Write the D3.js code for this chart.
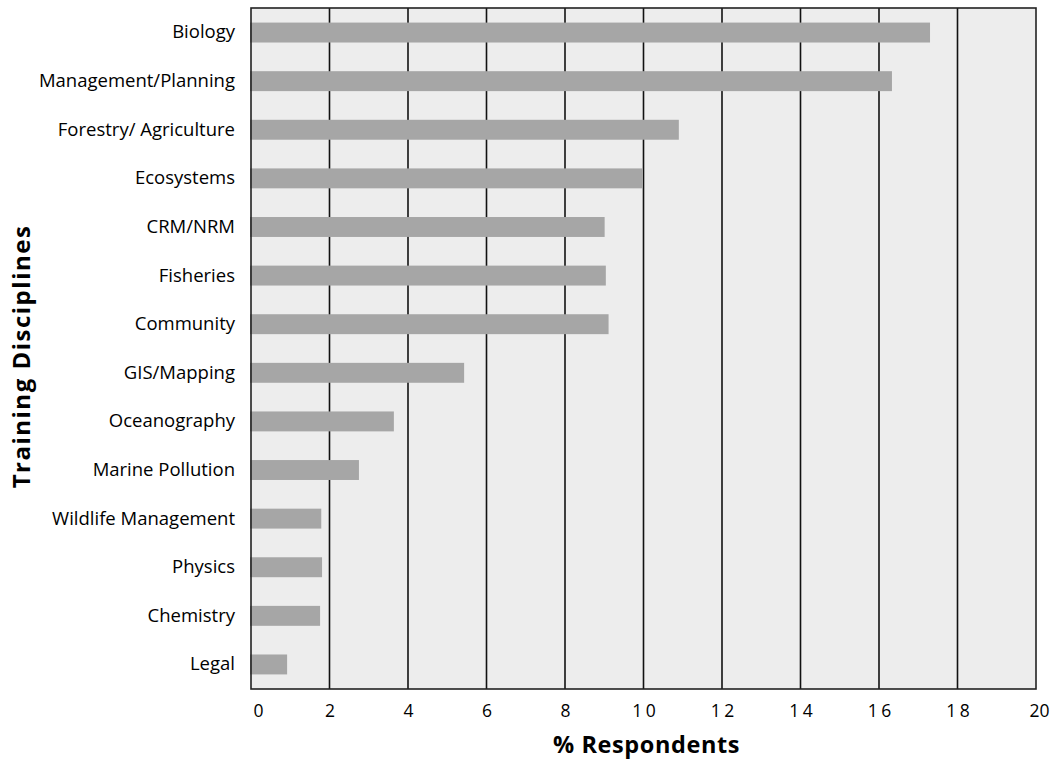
<!DOCTYPE html>
<html><head><meta charset="utf-8">
<script src="https://cdn.jsdelivr.net/npm/d3@7"></script>
<style>body{margin:0;background:#fff;} svg{display:block;}</style>
</head><body>
<svg id="c" width="1052" height="761"></svg>
<script>
const categories = ["Biology","Management/Planning","Forestry/ Agriculture","Ecosystems","CRM/NRM","Fisheries","Community","GIS/Mapping","Oceanography","Marine Pollution","Wildlife Management","Physics","Chemistry","Legal"];
const values = [17.3,16.33,10.9,9.98,9.01,9.04,9.11,5.43,3.64,2.75,1.79,1.81,1.76,0.92];
const xTicks = [0,2,4,6,8,10,12,14,16,18,20];
const xTitle = "% Respondents";
const yTitle = "Training Disciplines";

const svg = d3.select("#c");
const L=251, R=1036, T=8, B=689;
const x = d3.scaleLinear().domain([0,20]).range([L,R]);
const y = d3.scaleBand().domain(categories).range([T,B]).paddingInner(0.59).paddingOuter(0.3);
const font = "'Open Sans',sans-serif";

svg.append("rect").attr("x",L).attr("y",T).attr("width",R-L).attr("height",B-T).attr("fill","#ededed");

svg.append("g").selectAll("line").data(xTicks.filter(d=>d>0&&d<20)).join("line")
  .attr("x1",d=>x(d)).attr("x2",d=>x(d)).attr("y1",T).attr("y2",B)
  .attr("stroke","#111").attr("stroke-width",1.6);

svg.append("g").selectAll("rect").data(categories).join("rect")
  .attr("x",x(0)-1).attr("y",d=>y(d)).attr("height",y.bandwidth())
  .attr("width",(d,i)=>x(values[i])-x(0)+1).attr("fill","#a6a6a6");

svg.append("rect").attr("x",L).attr("y",T).attr("width",R-L).attr("height",B-T)
  .attr("fill","none").attr("stroke","#222").attr("stroke-width",1.6);

const ya = svg.append("g").attr("transform",`translate(${L},0)`)
  .call(d3.axisLeft(y).tickSize(0).tickPadding(16));
ya.select(".domain").remove();
ya.selectAll("text").attr("font-family",font).attr("font-size",18.5).attr("fill","#000");

const xa = svg.append("g").attr("transform",`translate(0,${B})`)
  .call(d3.axisBottom(x).tickValues(xTicks).tickSize(0).tickPadding(16).tickFormat(d=>String(d)));
xa.select(".domain").remove();
xa.selectAll("text").attr("font-family",font).attr("font-size",17.5).attr("fill","#000")
  .attr("letter-spacing",d=>(d>=10&&d<20)?"3.5px":"0px")
  .attr("dx",d=>d===0?"7px":(d>=10&&d<20)?"1.75px":d===20?"3px":"0px");

svg.append("text").attr("x",(L+R)/2+3).attr("y",753).attr("text-anchor","middle")
  .attr("font-family",font).attr("font-weight","bold").attr("font-size",23.5).attr("letter-spacing","0.6px")
  .attr("fill","#000").text(xTitle);

svg.append("text").attr("transform",`translate(30,${(T+B)/2+8}) rotate(-90)`).attr("text-anchor","middle")
  .attr("font-family",font).attr("font-weight","bold").attr("font-size",24).attr("letter-spacing","1.5px")
  .attr("fill","#000").text(yTitle);
</script>
</body></html>
